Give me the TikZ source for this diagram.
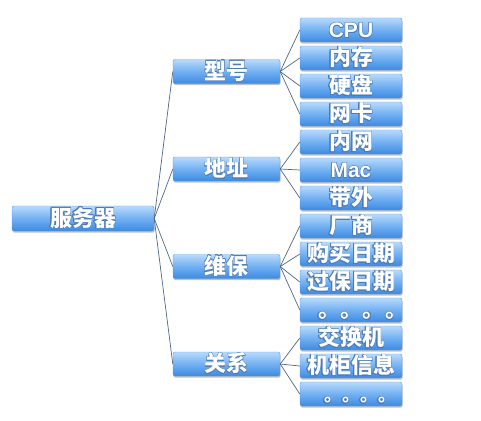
\documentclass[tikz,border=0pt]{standalone}
\usepackage{fontspec}
\usepackage{contour}
\contourlength{0.45pt}
\contournumber{16}
\newfontfamily\cjk{Noto Sans CJK SC}
\newfontfamily\lat{Liberation Sans}
\usetikzlibrary{shadows}
\definecolor{boxtop}{HTML}{B8DAFB}
\definecolor{boxmid}{HTML}{72B0F2}
\definecolor{boxbot}{HTML}{3C8AE2}
\definecolor{boxedge}{HTML}{5A9BE0}
\definecolor{linkc}{HTML}{4E6784}
\definecolor{halo}{HTML}{4D7BB5}
\newcommand{\tx}[1]{\contour{halo}{#1}}
\tikzset{
  box/.style={rounded corners=2pt, top color=boxtop, bottom color=boxbot, middle color=boxmid,
    draw=boxedge, line width=0.4pt, text=white, inner sep=0pt,
    minimum height=24pt, text height=18.3pt, text depth=2.7pt,
    font=\cjk\bfseries\fontsize{22}{22}\selectfont,
    drop shadow={shadow xshift=0.6pt, shadow yshift=-1.6pt, opacity=0.35, fill=black!70}},
  leaf/.style={box, minimum width=102pt},
  mid/.style={box, minimum width=107pt},
  rootbox/.style={box, minimum width=142pt, minimum height=25pt},
  link/.style={draw=linkc, line width=0.7pt}
}
\begin{document}
\begin{tikzpicture}[x=1pt,y=-1pt]
\useasboundingbox (0,0) rectangle (481,420);
\node[rootbox] (root) at (83,218.5) {\tx{服务器}};
\node[mid] (m1) at (226.5,71.5) {\tx{型号}};
\node[mid] (m2) at (226.5,169) {\tx{地址}};
\node[mid] (m3) at (226.5,266.5) {\tx{维保}};
\node[mid] (m4) at (226.5,364) {\tx{关系}};
\node[leaf] (l0) at (351,30) {\lat\fontsize{21}{21}\selectfont\tx{CPU}};
\node[leaf] (l1) at (351,58) {\tx{内存}};
\node[leaf] (l2) at (351,86) {\tx{硬盘}};
\node[leaf] (l3) at (351,114) {\tx{网卡}};
\node[leaf] (l4) at (351,142) {\tx{内网}};
\node[leaf] (l5) at (351,170) {\lat\fontsize{21}{21}\selectfont\tx{Mac}};
\node[leaf] (l6) at (351,198) {\tx{带外}};
\node[leaf] (l7) at (351,226) {\tx{厂商}};
\node[leaf] (l8) at (351,254) {\tx{购买日期}};
\node[leaf] (l9) at (351,282) {\tx{过保日期}};
\node[leaf] (l10) at (351,310) {\hbox to 102pt{\hspace{18pt}\tx{。\hspace{0.5pt}。\hspace{0.5pt}。\hspace{0.5pt}。}\hss}};
\node[leaf] (l11) at (351,338) {\tx{交换机}};
\node[leaf] (l12) at (351,366) {\tx{机柜信息}};
\node[leaf] (l13) at (351,394) {\hbox to 102pt{\hspace{24pt}\fontsize{18}{18}\selectfont\tx{。。。。}\hss}};
\foreach \m in {m1,m2,m3,m4} \draw[link] (root.east) -- (\m.west);
\foreach \l in {l0,l1,l2,l3} \draw[link] (m1.east) -- (\l.west);
\foreach \l in {l4,l5,l6} \draw[link] (m2.east) -- (\l.west);
\foreach \l in {l7,l8,l9,l10} \draw[link] (m3.east) -- (\l.west);
\foreach \l in {l11,l12,l13} \draw[link] (m4.east) -- (\l.west);
\end{tikzpicture}
\end{document}
